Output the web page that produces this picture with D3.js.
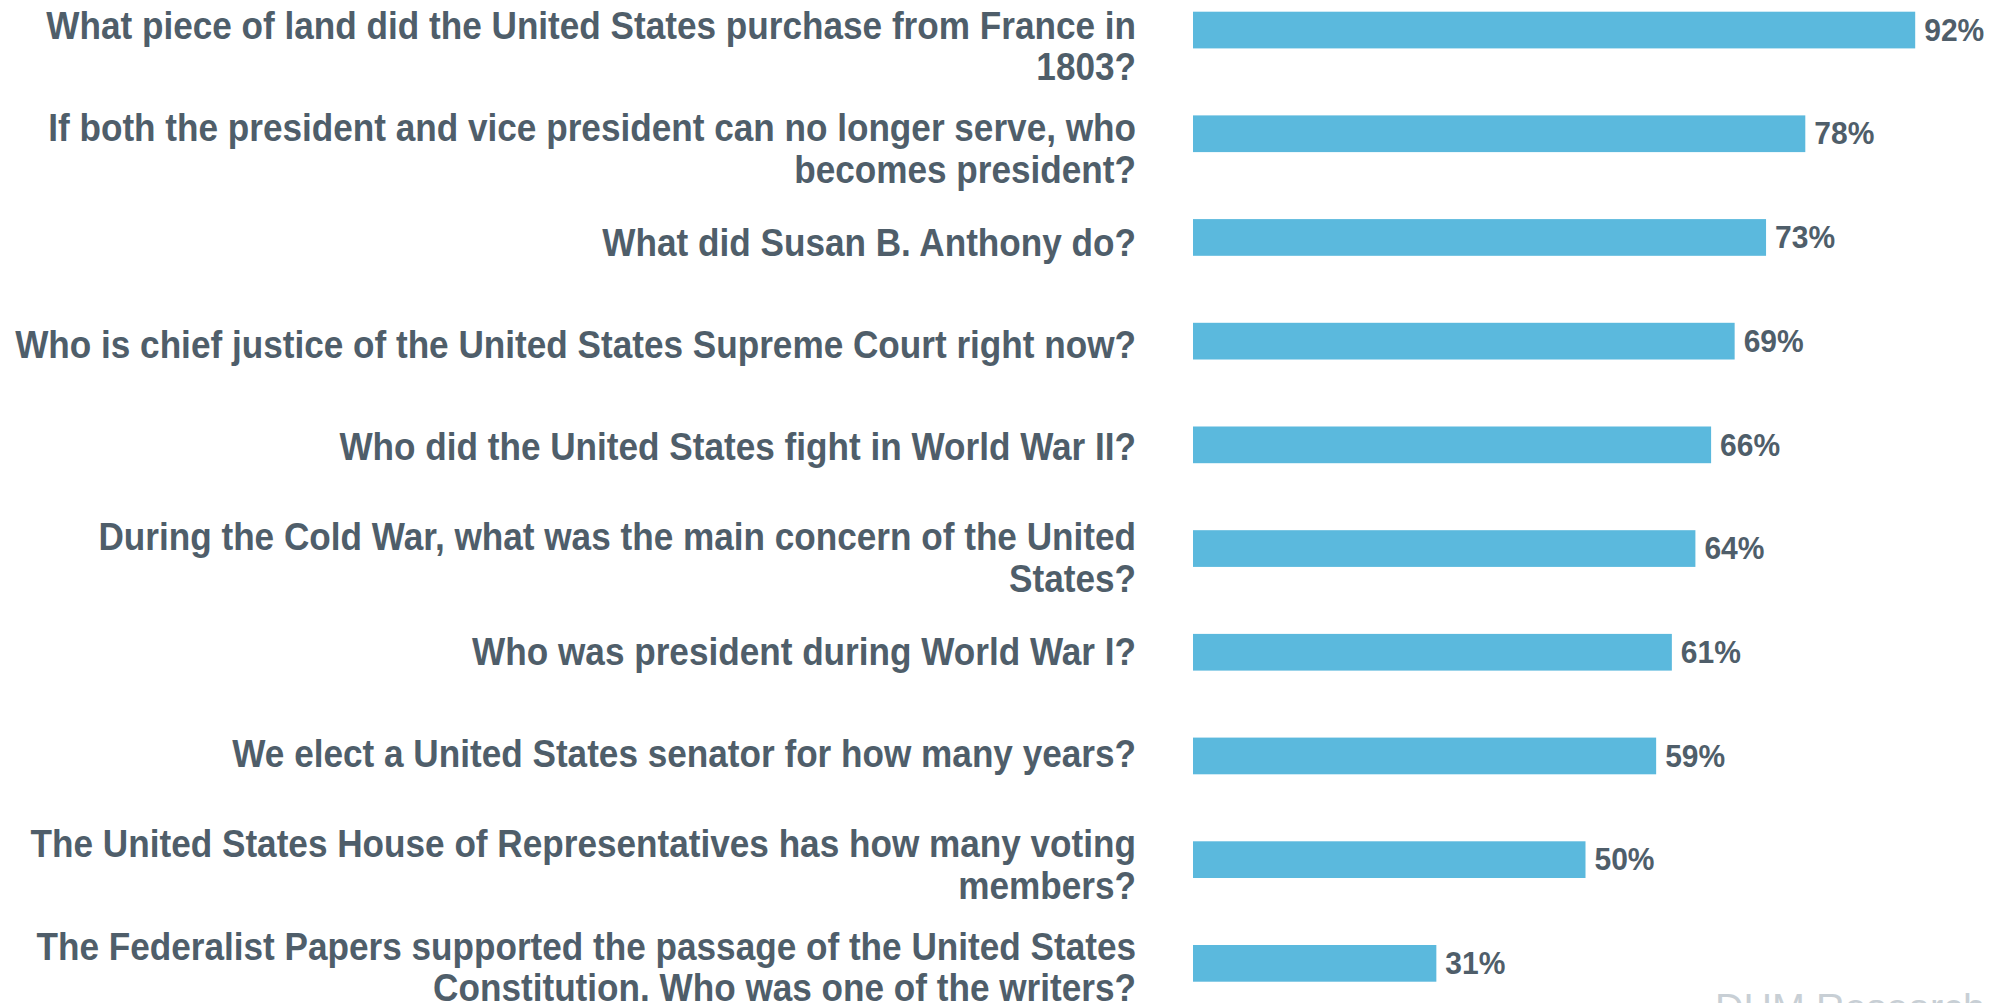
<!DOCTYPE html>
<html>
<head>
<meta charset="utf-8">
<script src="https://cdn.jsdelivr.net/npm/d3@7"></script>
<style>
  html, body { margin: 0; padding: 0; background: #fff; overflow: hidden; }
  svg { display: block; }
</style>
</head>
<body>
<svg id="chart" width="1994" height="1003"></svg>
<script>
const questions = [
  'What piece of land did the United States purchase from France in 1803?',
  'If both the president and vice president can no longer serve, who becomes president?',
  'What did Susan B. Anthony do?',
  'Who is chief justice of the United States Supreme Court right now?',
  'Who did the United States fight in World War II?',
  'During the Cold War, what was the main concern of the United States?',
  'Who was president during World War I?',
  'We elect a United States senator for how many years?',
  'The United States House of Representatives has how many voting members?',
  'The Federalist Papers supported the passage of the United States Constitution. Who was one of the writers?'
];
const correctPct = [92, 78, 73, 69, 66, 64, 61, 59, 50, 31];
const sourceNote = 'DHM Research';

const textColor = '#4f5e6a';
const barColor = '#5bb9dd';
const font = '"Liberation Sans", Arial, sans-serif';

const svg = d3.select('#chart');

const x = d3.scaleLinear().domain([0, 100]).range([1193, 1978]);
const y = d3.scaleBand()
  .domain(questions)
  .range([-21.8, 1015.2])
  .paddingInner(0.646)
  .paddingOuter(0.323);

// the category text sits on a slightly tighter spacing than the bars
const labelY = d3.scalePoint()
  .domain(questions)
  .range([34, 955]);

const rows = questions.map((q, i) => ({ q, v: correctPct[i] }));

// bars
svg.append('g')
  .selectAll('rect')
  .data(rows)
  .join('rect')
  .attr('x', x(0))
  .attr('y', d => y(d.q))
  .attr('width', d => x(d.v) - x(0))
  .attr('height', y.bandwidth())
  .attr('fill', barColor);

// value labels
svg.append('g')
  .selectAll('text')
  .data(rows)
  .join('text')
  .attr('transform', d => `translate(${x(d.v) + 9},${y(d.q) + y.bandwidth() / 2 + 10.7}) scale(1,1.05)`)
  .attr('font-family', font)
  .attr('font-weight', 'bold')
  .attr('font-size', 30)
  .attr('fill', textColor)
  .text(d => d.v + '%');

// category labels, wrapped to fit left of the bars
// (the source picture is a little taller than wide, so glyphs get a vertical stretch)
const labelRight = 1136;
const maxLabelWidth = 1150;
const stretch = 1.13;
const lineHeight = 42;

svg.append('g')
  .selectAll('text')
  .data(rows)
  .join('text')
  .attr('text-anchor', 'end')
  .attr('font-family', font)
  .attr('font-weight', 'bold')
  .attr('font-size', 35.15)
  .attr('fill', textColor)
  .each(function(d) {
    const text = d3.select(this);
    const words = d.q.split(' ');
    const lines = [];
    let line = [];
    const probe = text.append('tspan');
    words.forEach(w => {
      line.push(w);
      probe.text(line.join(' '));
      if (probe.node().getComputedTextLength() > maxLabelWidth && line.length > 1) {
        line.pop();
        lines.push(line.join(' '));
        line = [w];
      }
    });
    lines.push(line.join(' '));
    probe.remove();

    const c = labelY(d.q);
    const firstBaseline = lines.length > 1 ? c + 4.5 : c + 17;
    text.attr('transform', `translate(${labelRight},${firstBaseline}) scale(1,${stretch})`);
    lines.forEach((l, i) => {
      text.append('tspan')
        .attr('x', 0)
        .attr('y', i * lineHeight / stretch)
        .text(l);
    });
  });

// source watermark, mostly below the visible area
svg.append('text')
  .attr('x', 1715)
  .attr('y', 1021)
  .attr('font-family', font)
  .attr('font-size', 39.5)
  .attr('fill', '#c8cfd5')
  .text(sourceNote);
</script>
</body>
</html>
